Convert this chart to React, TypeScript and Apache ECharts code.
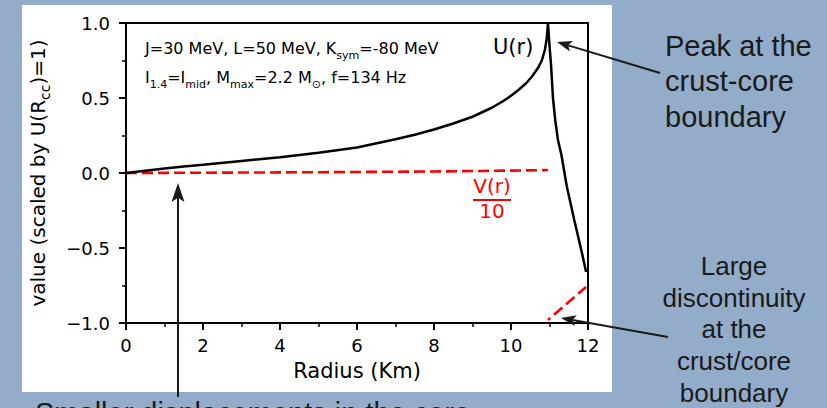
import React, { useEffect, useRef } from "react";
import * as echarts from "echarts";

// Displacement U(r), scaled by U(R_cc)=1
const U_RADIUS = [
  0, 0.5, 1, 1.5, 2, 3, 4, 5, 6, 7, 7.5, 8, 8.5, 9, 9.5, 9.8, 10, 10.2, 10.4,
  10.55, 10.7, 10.8, 10.88, 10.93, 10.96, 11.0, 11.04, 11.09, 11.15, 11.22,
  11.31, 11.45, 11.64, 11.84, 11.95,
];
const U_VALUE = [
  0, 0.015, 0.03, 0.043, 0.055, 0.08, 0.105, 0.135, 0.17, 0.225, 0.255, 0.29,
  0.33, 0.375, 0.435, 0.48, 0.515, 0.555, 0.6, 0.645, 0.7, 0.75, 0.82, 0.9, 1.0,
  0.85, 0.72, 0.5, 0.35, 0.22, 0.12, -0.09, -0.31, -0.53, -0.66,
];

// V(r)/10 in the core and in the crust
const V_CORE_RADIUS = [0, 2, 4, 6, 8, 10, 10.96];
const V_CORE_VALUE = [0, 0.002, 0.004, 0.007, 0.01, 0.016, 0.02];
const V_CRUST_RADIUS = [10.96, 11.95];
const V_CRUST_VALUE = [-0.98, -0.76];

const X_MIN = 0;
const X_MAX = 12;
const X_STEP = 2;
const Y_MIN = -1;
const Y_MAX = 1;
const Y_STEP = 0.5;

const BG = "#92acc9";
const INK = "#1a1a1a";
const PLOT_FONT = "DejaVu Sans";
const NOTE_FONT = "Liberation Sans";

function pairs(xs: number[], ys: number[]) {
  return xs.map((x, i) => [x, ys[i]]);
}

function arrow(x1: number, y1: number, x2: number, y2: number, headLen: number, headW: number) {
  const dx = x2 - x1;
  const dy = y2 - y1;
  const L = Math.hypot(dx, dy);
  const ux = dx / L;
  const uy = dy / L;
  const bx = x2 - ux * headLen;
  const by = y2 - uy * headLen;
  const nx = x2 - ux * headLen * 0.78;
  const ny = y2 - uy * headLen * 0.78;
  const px = -uy * headW / 2;
  const py = ux * headW / 2;
  return [
    {
      type: "line",
      z: 100,
      shape: { x1, y1, x2: nx, y2: ny },
      style: { stroke: INK, lineWidth: 2 },
    },
    {
      type: "polygon",
      z: 100,
      shape: { points: [[x2, y2], [bx + px, by + py], [nx, ny], [bx - px, by - py]] },
      style: { fill: INK },
    },
  ];
}

const subRich = {
  sub: { fontSize: 11, lineHeight: 11, verticalAlign: "bottom", fontFamily: PLOT_FONT, color: "#000" },
};

export default function App() {
  const ref = useRef<HTMLDivElement>(null);

  useEffect(() => {
    if (!ref.current) return;
    const chart = echarts.init(ref.current, undefined, { renderer: "svg" });

    const option: any = {
      animation: false,
      backgroundColor: BG,
      grid: {
        left: 126,
        top: 23,
        right: 239,
        bottom: 85,
        show: true,
        borderColor: "#000",
        borderWidth: 2,
        backgroundColor: "transparent",
      },
      xAxis: {
        type: "value",
        min: X_MIN,
        max: X_MAX,
        interval: X_STEP,
        name: "Radius (Km)",
        nameLocation: "middle",
        nameGap: 37,
        nameTextStyle: { fontFamily: PLOT_FONT, fontSize: 21, color: "#000" },
        axisLine: { show: true, onZero: false, lineStyle: { color: "#000", width: 2 } },
        axisTick: { show: true, inside: false, length: 7, lineStyle: { color: "#000", width: 2 } },
        minorTick: { show: true, splitNumber: 2, length: 4, lineStyle: { color: "#000", width: 1.5 } },
        splitLine: { show: false },
        minorSplitLine: { show: false },
        axisLabel: {
          fontFamily: PLOT_FONT,
          fontSize: 18,
          color: "#000",
          margin: 13,
          formatter: (v: number) => String(v),
        },
      },
      yAxis: {
        type: "value",
        min: Y_MIN,
        max: Y_MAX,
        interval: Y_STEP,
        name: "value (scaled by U(R{sub|cc})=1)",
        nameLocation: "middle",
        nameGap: 74,
        nameTextStyle: {
          fontFamily: PLOT_FONT,
          fontSize: 20,
          lineHeight: 28,
          color: "#000",
          rich: {
            sub: { fontSize: 14, lineHeight: 14, verticalAlign: "bottom", fontFamily: PLOT_FONT, color: "#000" },
          },
        },
        axisLine: { show: true, onZero: false, lineStyle: { color: "#000", width: 2 } },
        axisTick: { show: true, inside: false, length: 7, lineStyle: { color: "#000", width: 2 } },
        minorTick: { show: true, splitNumber: 2, length: 4, lineStyle: { color: "#000", width: 1.5 } },
        splitLine: { show: false },
        minorSplitLine: { show: false },
        axisLabel: {
          fontFamily: PLOT_FONT,
          fontSize: 18,
          color: "#000",
          margin: 16,
          formatter: (v: number) => (v < 0 ? "\u2212" : "") + Math.abs(v).toFixed(1),
        },
      },
      series: [
        {
          name: "U(r)",
          type: "line",
          data: pairs(U_RADIUS, U_VALUE),
          showSymbol: false,
          symbol: "none",
          lineStyle: { color: "#000", width: 2.5 },
          z: 3,
        },
        {
          name: "V(r)/10 core",
          type: "line",
          data: pairs(V_CORE_RADIUS, V_CORE_VALUE),
          showSymbol: false,
          symbol: "none",
          lineStyle: { color: "#ff0000", width: 2.6, type: [11, 5] },
          z: 2,
        },
        {
          name: "V(r)/10 crust",
          type: "line",
          data: pairs(V_CRUST_RADIUS, V_CRUST_VALUE),
          showSymbol: false,
          symbol: "none",
          lineStyle: { color: "#ff0000", width: 2.6, type: [11, 5], dashOffset: 8 },
          z: 2,
        },
      ],
      graphic: [
        {
          type: "rect",
          z: -1,
          silent: true,
          shape: { x: 22, y: 5, width: 590, height: 387 },
          style: { fill: "#ffffff" },
        },
        {
          type: "text",
          z: 50,
          x: 145,
          y: 36.5,
          style: {
            text: "J=30 MeV, L=50 MeV, K{sub|sym}=-80 MeV",
            fontFamily: PLOT_FONT,
            fontSize: 16,
            lineHeight: 24,
            fill: "#000",
            verticalAlign: "top",
            rich: subRich,
          },
        },
        {
          type: "text",
          z: 50,
          x: 145,
          y: 65.5,
          style: {
            text: "I{sub|1.4}=I{sub|mid}, M{sub|max}=2.2 M{sub|\u2299}, f=134 Hz",
            fontFamily: PLOT_FONT,
            fontSize: 16,
            lineHeight: 24,
            fill: "#000",
            verticalAlign: "top",
            rich: subRich,
          },
        },
        {
          type: "text",
          z: 50,
          x: 493,
          y: 47,
          style: {
            text: "U(r)",
            fontFamily: PLOT_FONT,
            fontSize: 21,
            fill: "#000",
            verticalAlign: "middle",
          },
        },
        {
          type: "text",
          z: 50,
          x: 492,
          y: 186,
          style: {
            text: "V(r)",
            fontFamily: PLOT_FONT,
            fontSize: 20,
            fill: "#ff0000",
            align: "center",
            verticalAlign: "middle",
          },
        },
        {
          type: "line",
          z: 50,
          shape: { x1: 473, y1: 200, x2: 511, y2: 200 },
          style: { stroke: "#ff0000", lineWidth: 1.8 },
        },
        {
          type: "text",
          z: 50,
          x: 492,
          y: 211,
          style: {
            text: "10",
            fontFamily: PLOT_FONT,
            fontSize: 20,
            fill: "#ff0000",
            align: "center",
            verticalAlign: "middle",
          },
        },
        {
          type: "text",
          z: 50,
          x: 665,
          y: 28,
          style: {
            text: "Peak at the\ncrust-core\nboundary",
            fontFamily: NOTE_FONT,
            fontSize: 29,
            lineHeight: 35.5,
            fill: INK,
            align: "left",
            verticalAlign: "top",
          },
        },
        {
          type: "text",
          z: 50,
          x: 734,
          y: 250,
          style: {
            text: "Large\ndiscontinuity\nat the\ncrust/core\nboundary",
            fontFamily: NOTE_FONT,
            fontSize: 26,
            lineHeight: 31.75,
            fill: INK,
            align: "center",
            verticalAlign: "top",
          },
        },
        {
          type: "text",
          z: 50,
          x: 35,
          y: 413,
          style: {
            text: "Smaller displacements in the core",
            fontFamily: NOTE_FONT,
            fontSize: 29,
            fill: INK,
            align: "left",
            verticalAlign: "middle",
          },
        },
        ...arrow(660, 73, 557, 42, 15, 11),
        ...arrow(178, 397, 178, 183, 19, 13),
        ...arrow(668, 337, 561, 318, 15, 11),
      ],
    };

    chart.setOption(option);
    return () => chart.dispose();
  }, []);

  return (
    <div
      ref={ref}
      style={{ position: "fixed", left: 0, top: 0, width: 827, height: 408 }}
    />
  );
}
